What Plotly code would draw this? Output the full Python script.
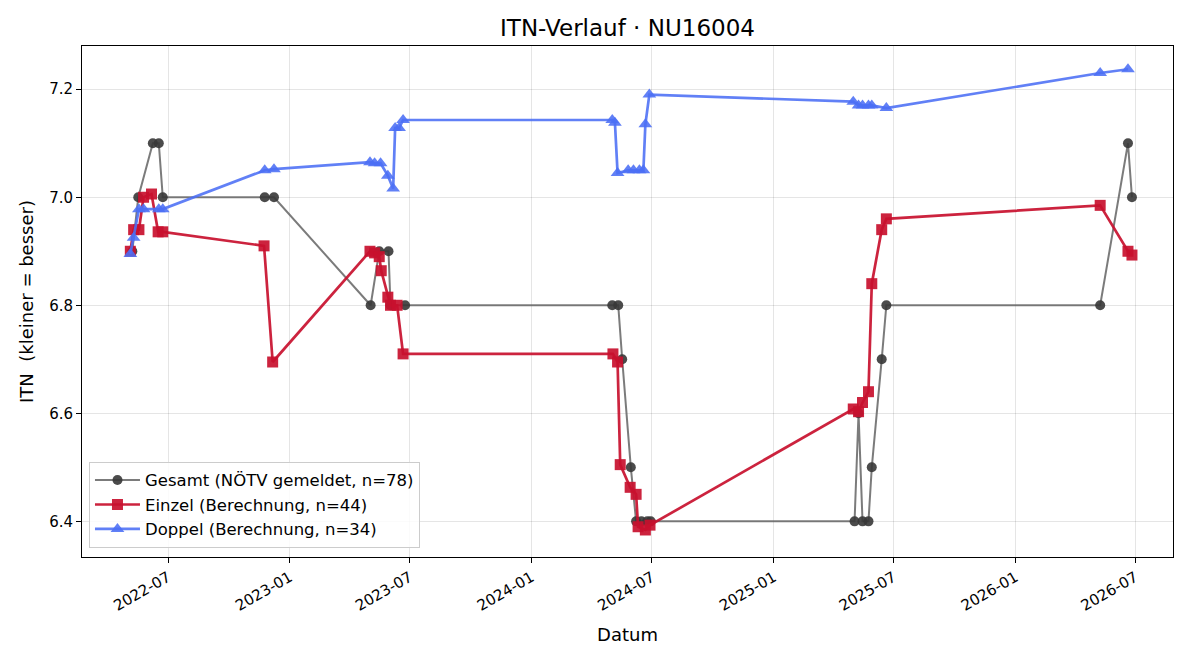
import plotly.graph_objects as go

# ---- data ----
gesamt_dates = [
    "2022-05-08", "2022-05-17", "2022-06-08", "2022-06-17", "2022-06-23",
    "2022-11-24", "2022-12-08",
    "2023-05-03", "2023-05-16", "2023-05-30", "2023-06-02", "2023-06-24",
    "2024-05-02", "2024-05-11", "2024-05-17", "2024-05-30", "2024-06-07",
    "2024-06-15", "2024-06-24", "2024-06-29",
    "2025-05-03", "2025-05-09", "2025-05-15", "2025-05-24", "2025-05-29",
    "2025-06-13", "2025-06-20",
    "2026-05-09", "2026-06-20", "2026-06-26",
]
gesamt_itn = [
    6.9, 7.0, 7.1, 7.1, 7.0,
    7.0, 7.0,
    6.8, 6.9, 6.9, 6.8, 6.8,
    6.8, 6.8, 6.7, 6.5, 6.4,
    6.4, 6.4, 6.4,
    6.4, 6.6, 6.4, 6.4, 6.5,
    6.7, 6.8,
    6.8, 7.1, 7.0,
]

einzel_dates = [
    "2022-05-05", "2022-05-10", "2022-05-18", "2022-05-25", "2022-06-06",
    "2022-06-16", "2022-06-23",
    "2022-11-23", "2022-12-06",
    "2023-05-02", "2023-05-09", "2023-05-16", "2023-05-19", "2023-05-29",
    "2023-06-02", "2023-06-12", "2023-06-21",
    "2024-05-03", "2024-05-10", "2024-05-14", "2024-05-29", "2024-06-07",
    "2024-06-10", "2024-06-21", "2024-06-28",
    "2025-05-01", "2025-05-09", "2025-05-15", "2025-05-24", "2025-05-29",
    "2025-06-13", "2025-06-20",
    "2026-05-09", "2026-06-20", "2026-06-26",
]
einzel_itn = [
    6.900, 6.940, 6.940, 7.000, 7.006,
    6.936, 6.936,
    6.910, 6.695,
    6.900, 6.897, 6.890, 6.864, 6.815,
    6.800, 6.800, 6.710,
    6.710, 6.695, 6.505, 6.463, 6.450,
    6.390, 6.384, 6.393,
    6.608, 6.603, 6.620, 6.640, 6.840,
    6.940, 6.960,
    6.985, 6.900, 6.893,
]

doppel_dates = [
    "2022-05-05", "2022-05-10", "2022-05-18", "2022-05-25", "2022-06-17",
    "2022-06-23",
    "2022-11-24", "2022-12-08",
    "2023-05-02", "2023-05-09", "2023-05-18", "2023-05-29", "2023-06-06",
    "2023-06-09", "2023-06-15", "2023-06-21",
    "2024-05-02", "2024-05-06", "2024-05-10", "2024-05-26", "2024-06-03",
    "2024-06-12", "2024-06-18", "2024-06-21", "2024-06-27",
    "2025-05-01", "2025-05-09", "2025-05-15", "2025-05-24", "2025-05-29",
    "2025-06-20",
    "2026-05-09", "2026-06-20",
]
doppel_itn = [
    6.895, 6.925, 6.978, 6.978, 6.978,
    6.978,
    7.050, 7.052,
    7.065, 7.063, 7.063, 7.040, 7.016,
    7.128, 7.128, 7.143,
    7.143, 7.138, 7.045, 7.050, 7.050,
    7.050, 7.050, 7.135, 7.190,
    7.177, 7.170, 7.170, 7.170, 7.170,
    7.165,
    7.230, 7.237,
]

series_names = [
    "Gesamt (NÖTV gemeldet, n=78)",
    "Einzel (Berechnung, n=44)",
    "Doppel (Berechnung, n=34)",
]

FONT = "DejaVu Sans"

fig = go.Figure()
fig.add_trace(go.Scatter(
    x=gesamt_dates, y=gesamt_itn, mode="lines+markers", name=series_names[0],
    line=dict(color="rgba(100,100,100,0.85)", width=2),
    marker=dict(symbol="circle", size=10, color="rgba(55,55,55,0.9)"),
))
fig.add_trace(go.Scatter(
    x=einzel_dates, y=einzel_itn, mode="lines+markers", name=series_names[1],
    line=dict(color="rgba(200,16,46,0.92)", width=2.7),
    marker=dict(symbol="square", size=11, color="rgba(200,16,46,0.92)"),
))
fig.add_trace(go.Scatter(
    x=doppel_dates, y=doppel_itn, mode="lines+markers", name=series_names[2],
    line=dict(color="rgba(75,110,245,0.88)", width=2.7),
    marker=dict(symbol="triangle-up", size=12, color="rgba(75,110,245,0.88)"),
))

fig.update_layout(
    width=1200, height=660,
    margin=dict(l=82, r=27, t=46, b=103),
    paper_bgcolor="white", plot_bgcolor="white",
    font=dict(family=FONT, color="black", size=15),
    title=dict(text="ITN-Verlauf · NU16004", x=0.5, xref="paper",
               y=1 - 28 / 660, yref="container", yanchor="middle",
               font=dict(size=23, family=FONT)),
    showlegend=True,
    legend=dict(x=0.0064, y=0.018, xanchor="left", yanchor="bottom",
                bgcolor="rgba(255,255,255,0.85)", bordercolor="#cccccc",
                borderwidth=1, font=dict(size=16.5, family=FONT),
                itemwidth=45, tracegroupgap=0),
)
fig.update_xaxes(
    type="date", range=["2022-02-21", "2026-08-27"],
    tick0="2022-07-01", dtick="M6", tickformat="%Y-%m", tickangle=-30,
    ticks="outside", ticklen=5, tickcolor="black",
    showline=True, linecolor="black", linewidth=1, mirror=True,
    showgrid=True, gridcolor="rgba(0,0,0,0.1)", zeroline=False,
    tickfont=dict(size=15),
    title=dict(text="Datum", font=dict(size=18), standoff=14),
)
fig.update_yaxes(
    range=[6.334, 7.280], tick0=6.4, dtick=0.2, tickformat=".1f",
    ticks="outside", ticklen=5, tickcolor="black",
    showline=True, linecolor="black", linewidth=1, mirror=True,
    showgrid=True, gridcolor="rgba(0,0,0,0.1)", zeroline=False,
    tickfont=dict(size=15),
    title=dict(text="ITN \u00a0(kleiner = besser)", font=dict(size=18), standoff=10),
)

fig.write_html("out.html")
